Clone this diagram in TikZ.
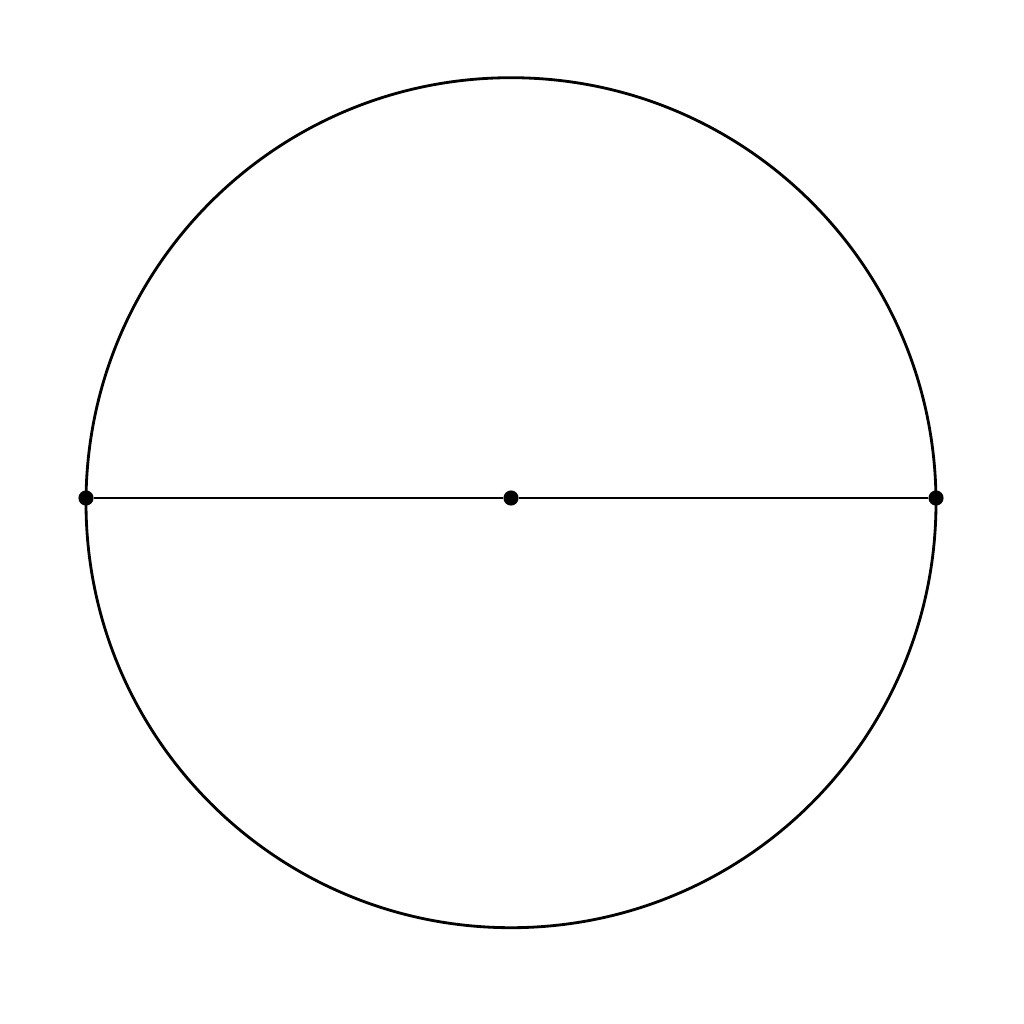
\documentclass[tikz,border=0pt]{standalone}
\begin{document}
\begin{tikzpicture}[x=0.01cm,y=-0.01cm,
  ln/.style={line width=0.8pt,black},
  dotc/.style={circle,fill=black,inner sep=0pt,minimum size=4.3pt}]
\useasboundingbox (0,0) rectangle (1024,1024);
\fill[white] (0,0) rectangle (1024,1024);
\draw[ln] (511,502.7) circle (425);
\node[dotc] (L) at (86,498) {};
\node[dotc] (C) at (511,498) {};
\node[dotc] (R) at (936,498) {};
\draw[ln] (L) -- (C) -- (R);
\end{tikzpicture}
\end{document}
